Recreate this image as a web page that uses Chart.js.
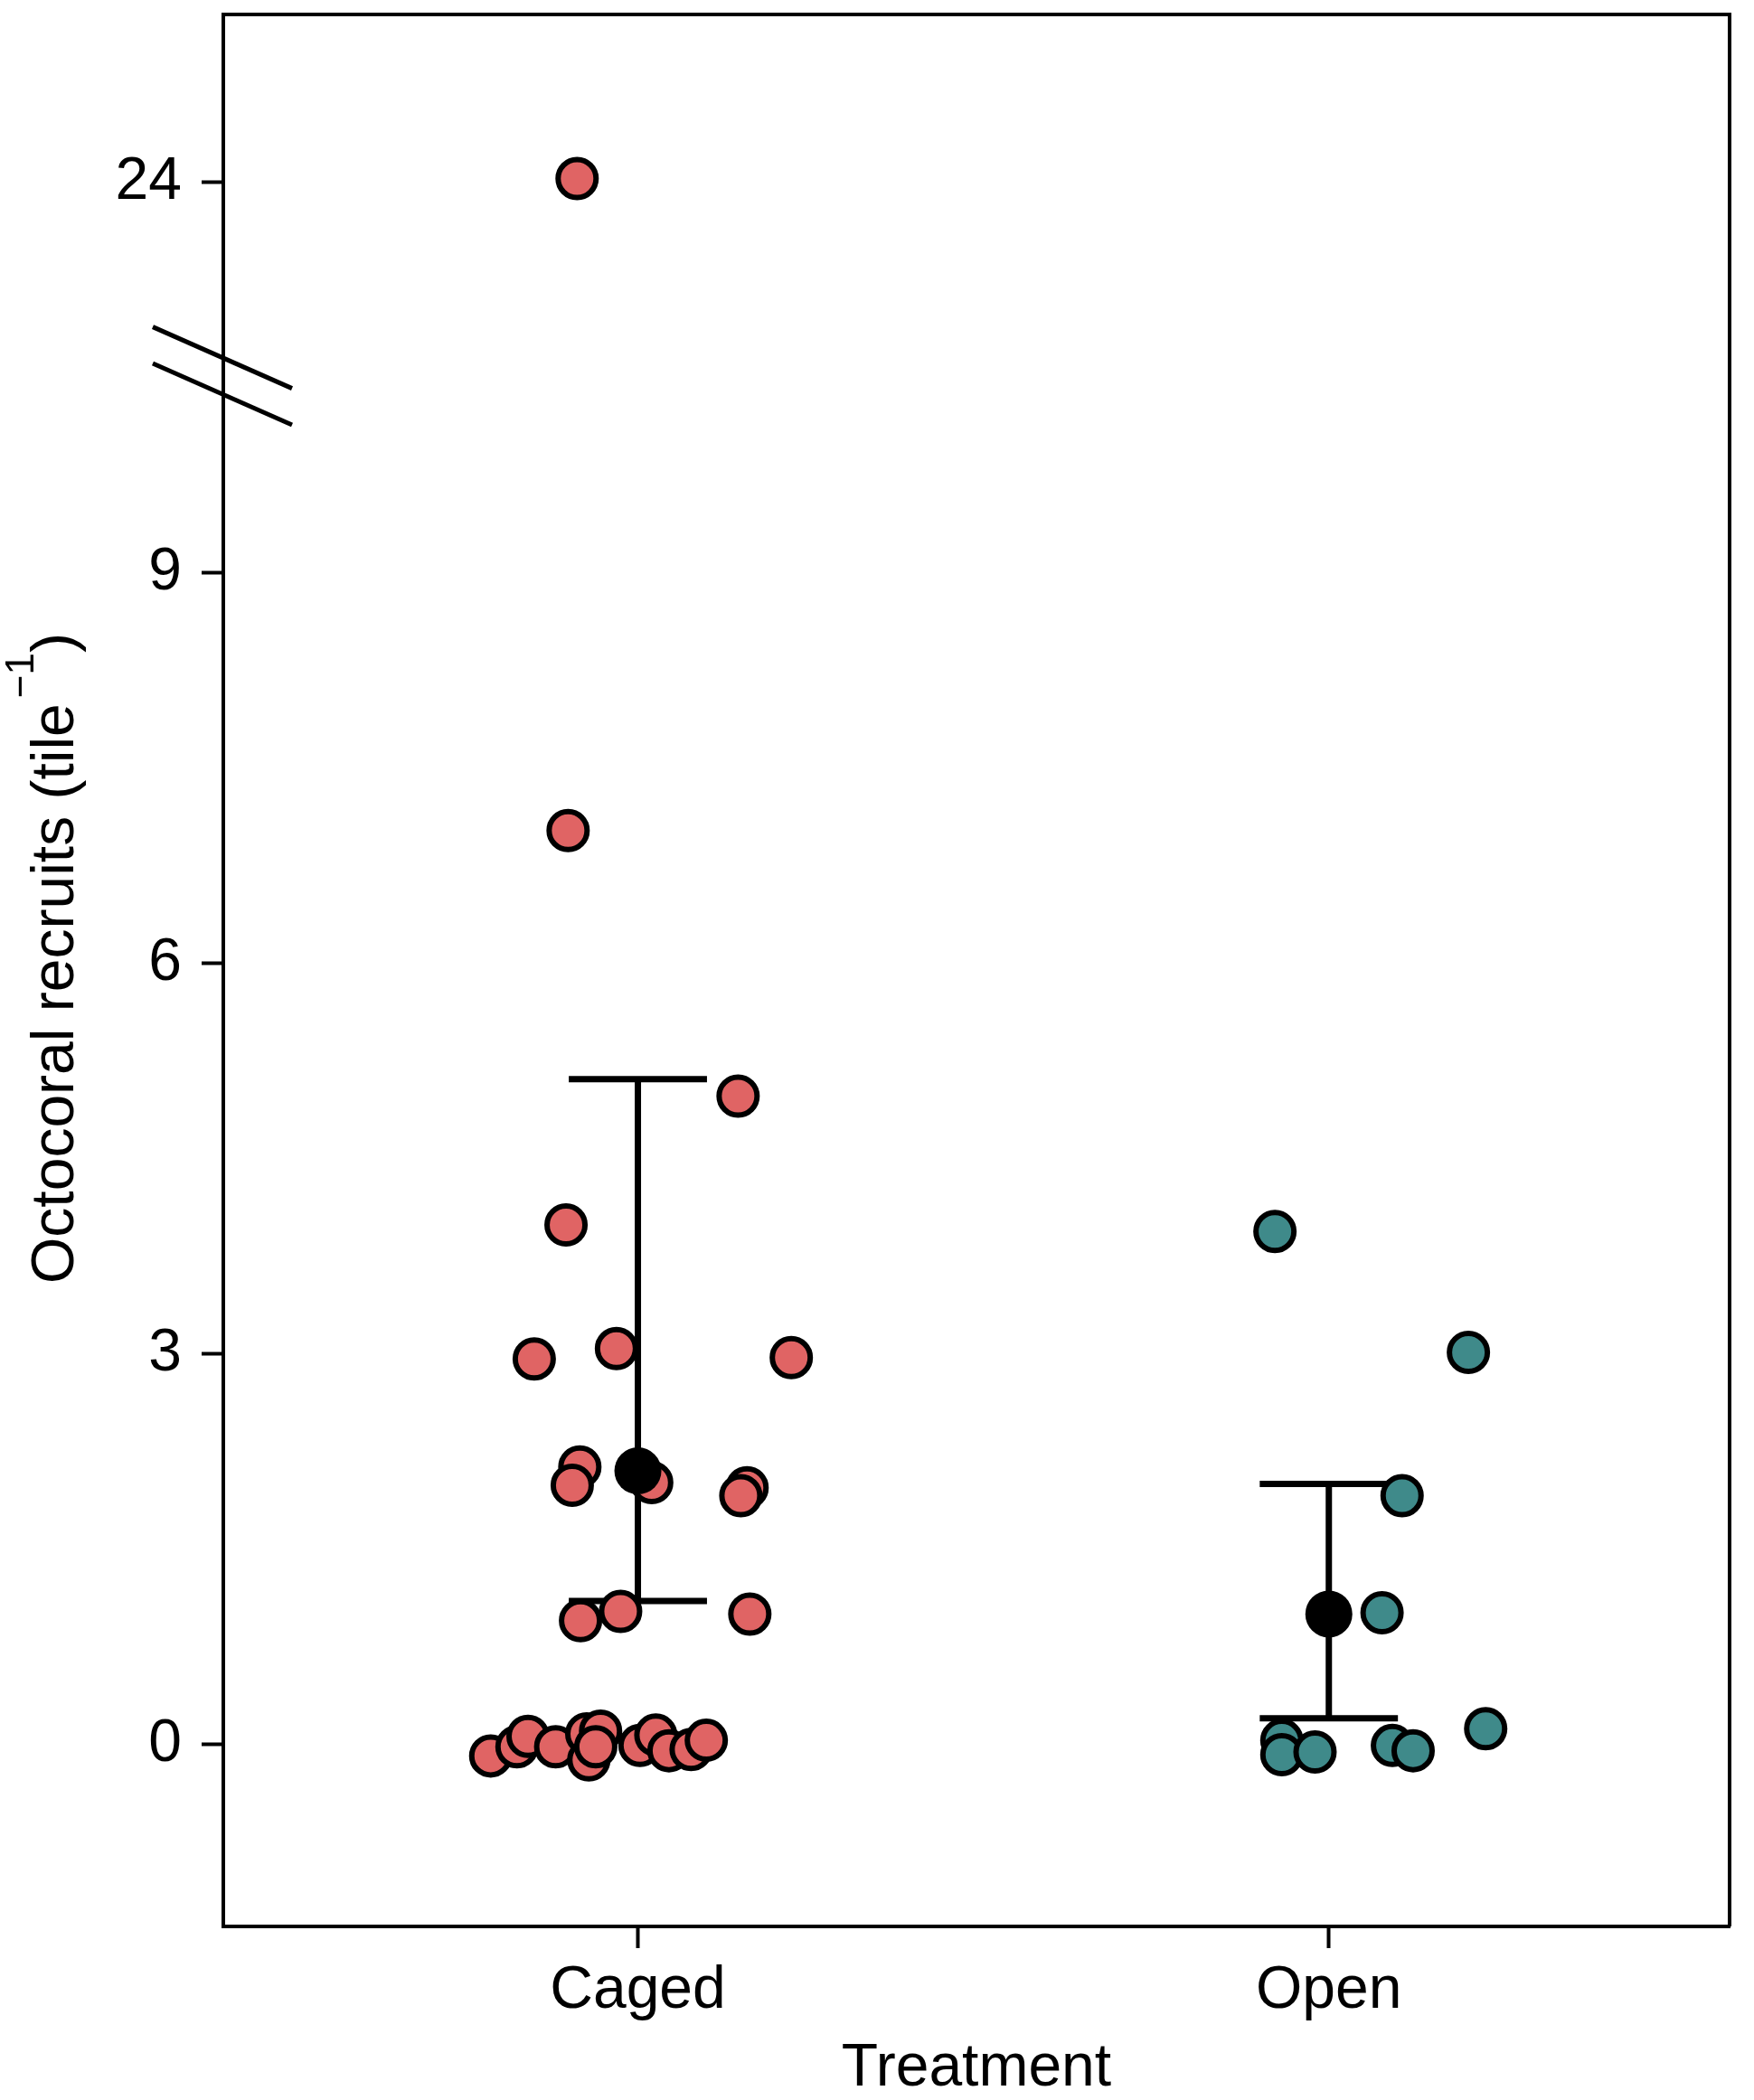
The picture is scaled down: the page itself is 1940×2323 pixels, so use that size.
<!DOCTYPE html>
<html lang="en">
  <head>
    <meta charset="UTF-8" />
    <title>Octocoral recruits by treatment</title>
    <script src="https://cdn.jsdelivr.net/npm/chart.js"></script>
    <style>
      html,
      body {
        margin: 0;
        padding: 0;
        background: #fff;
      }
    </style>
  </head>
  <body>
    <canvas id="recruits-chart" width="1940" height="2323"></canvas>

    <script>
      // Treatment groups and the x positions of their centres
      const groups = ["Caged", "Open"];
      const groupCentres = [1, 2];

      // Caged tiles (jittered x, recruits per tile)
      const cagedX = [
        0.912, 0.899, 1.145, 0.896, 0.85, 0.969, 1.222, 0.916, 0.905, 1.02,
        1.158, 1.149, 0.917, 0.975, 1.162, 0.787, 0.825, 0.841, 0.881, 0.926,
        0.946, 0.929, 0.939, 1.003, 1.026, 1.045, 1.077, 1.099,
      ];
      const cagedY = [
        24.03, 7.02, 4.98, 3.99, 2.96, 3.04, 2.97, 2.13, 1.99, 2.01, 1.97, 1.91,
        0.95, 1.02, 1.0, -0.09, -0.02, 0.06, -0.02, 0.08, 0.1, -0.12, -0.02,
        -0.01, 0.07, -0.05, -0.04, 0.03,
      ];

      // Open tiles
      const openX = [1.922, 2.202, 2.106, 2.077, 2.227, 1.932, 1.932, 1.98, 2.092, 2.122];
      const openY = [3.94, 3.01, 1.91, 1.01, 0.12, 0.03, -0.08, -0.06, -0.01, -0.05];

      // Group means and interval ends
      const groupMeans = [2.1, 1.0];
      const ciLower = [1.1, 0.2];
      const ciUpper = [5.11, 2.0];

      // Y tick labels (24 sits above the axis break)
      const yTickValues = [0, 3, 6, 9, 24];

      // Axis break: values above breakLevel are shifted down by breakShift
      const breakLevel = 10.5;
      const breakShift = 12;
      function toAxis(v) {
        return v > breakLevel ? v - breakShift : v;
      }

      const FONT = "'Liberation Sans', Arial, sans-serif";
      const capHalf = 0.1;

      function points(xs, ys) {
        return xs.map((x, i) => ({ x: x, y: toAxis(ys[i]) }));
      }

      // Error bar segments: vertical bar + two caps per group
      const errorSets = [];
      groupCentres.forEach((c, i) => {
        const lo = toAxis(ciLower[i]);
        const hi = toAxis(ciUpper[i]);
        [
          [{ x: c, y: lo }, { x: c, y: hi }],
          [{ x: c - capHalf, y: hi }, { x: c + capHalf, y: hi }],
          [{ x: c - capHalf, y: lo }, { x: c + capHalf, y: lo }],
        ].forEach((seg) => {
          errorSets.push({
            data: seg,
            showLine: true,
            borderColor: "#000",
            borderWidth: 7,
            borderCapStyle: "butt",
            pointRadius: 0,
            order: 3,
          });
        });
      });

      // Frame (top/right), axis break marks and the y title with superscript
      const extras = {
        id: "extras",
        afterDraw(chart) {
          const ctx = chart.ctx;
          const a = chart.chartArea;
          const y = chart.scales.y;
          ctx.save();
          ctx.strokeStyle = "#000";
          ctx.lineWidth = 4;
          ctx.beginPath();
          ctx.moveTo(a.left, a.top);
          ctx.lineTo(a.right, a.top);
          ctx.lineTo(a.right, a.bottom);
          ctx.stroke();

          // break marks
          ctx.lineWidth = 5;
          [10.65, 10.37].forEach((v) => {
            const py = y.getPixelForValue(v);
            ctx.beginPath();
            ctx.moveTo(a.left - 78, py - 78 * 0.4416);
            ctx.lineTo(a.left + 76, py + 76 * 0.4416);
            ctx.stroke();
          });

          // y axis title
          ctx.translate(81, 1420);
          ctx.rotate(-Math.PI / 2);
          ctx.fillStyle = "#000";
          ctx.textBaseline = "alphabetic";
          ctx.textAlign = "left";
          ctx.font = "66px " + FONT;
          const main = "Octocoral recruits (tile";
          ctx.fillText(main, 0, 0);
          let w = ctx.measureText(main).width + 6;
          ctx.font = "44px " + FONT;
          ctx.fillText("\u22121", w, -44);
          w += ctx.measureText("\u22121").width;
          ctx.font = "66px " + FONT;
          ctx.fillText(")", w, 0);
          ctx.restore();
        },
      };

      new Chart(document.getElementById("recruits-chart"), {
        type: "scatter",
        data: {
          datasets: [
            ...errorSets,
            {
              label: "Caged",
              data: points(cagedX, cagedY),
              backgroundColor: "#E06464",
              borderColor: "#000",
              borderWidth: 6,
              pointRadius: 21,
              order: 2,
            },
            {
              label: "Open",
              data: points(openX, openY),
              backgroundColor: "#3F8A8A",
              borderColor: "#000",
              borderWidth: 6,
              pointRadius: 21,
              order: 2,
            },
            {
              label: "Mean",
              data: points(groupCentres, groupMeans),
              backgroundColor: "#000",
              borderColor: "#000",
              borderWidth: 0,
              pointRadius: 26,
              order: 1,
            },
          ],
        },
        options: {
          responsive: false,
          animation: false,
          devicePixelRatio: 1,
          layout: {
            autoPadding: false,
            padding: { top: 16, right: 27, left: 0, bottom: 0 },
          },
          plugins: {
            legend: { display: false },
            tooltip: { enabled: false },
          },
          scales: {
            x: {
              type: "linear",
              min: 0.4,
              max: 2.58,
              afterFit(scale) {
                scale.height = 192;
                scale.paddingLeft = 0;
                scale.paddingRight = 0;
              },
              afterBuildTicks(scale) {
                scale.ticks = groupCentres.map((v) => ({ value: v }));
              },
              ticks: {
                padding: 8,
                color: "#000",
                font: { family: FONT, size: 66 },
                callback: (value) => groups[groupCentres.indexOf(value)],
              },
              grid: {
                drawOnChartArea: false,
                tickLength: 24,
                tickWidth: 4,
                tickColor: "#000",
              },
              border: { display: true, color: "#000", width: 4 },
              title: {
                display: true,
                text: "Treatment",
                color: "#000",
                font: { family: FONT, size: 66, lineHeight: 1.0 },
                padding: { top: 0, bottom: 1 },
              },
            },
            y: {
              type: "linear",
              min: -1.4,
              max: 13.29,
              afterFit(scale) {
                scale.width = 247;
                scale.paddingTop = 0;
                scale.paddingBottom = 0;
              },
              afterBuildTicks(scale) {
                scale.ticks = yTickValues.map((v) => ({ value: toAxis(v) }));
              },
              ticks: {
                padding: 22,
                color: "#000",
                font: { family: FONT, size: 66 },
                callback: (value) => {
                  const i = yTickValues.map(toAxis).indexOf(value);
                  return i >= 0 ? String(yTickValues[i]) : "";
                },
              },
              grid: {
                drawOnChartArea: false,
                tickLength: 24,
                tickWidth: 4,
                tickColor: "#000",
              },
              border: { display: true, color: "#000", width: 4 },
            },
          },
        },
        plugins: [extras],
      });
    </script>
  </body>
</html>
